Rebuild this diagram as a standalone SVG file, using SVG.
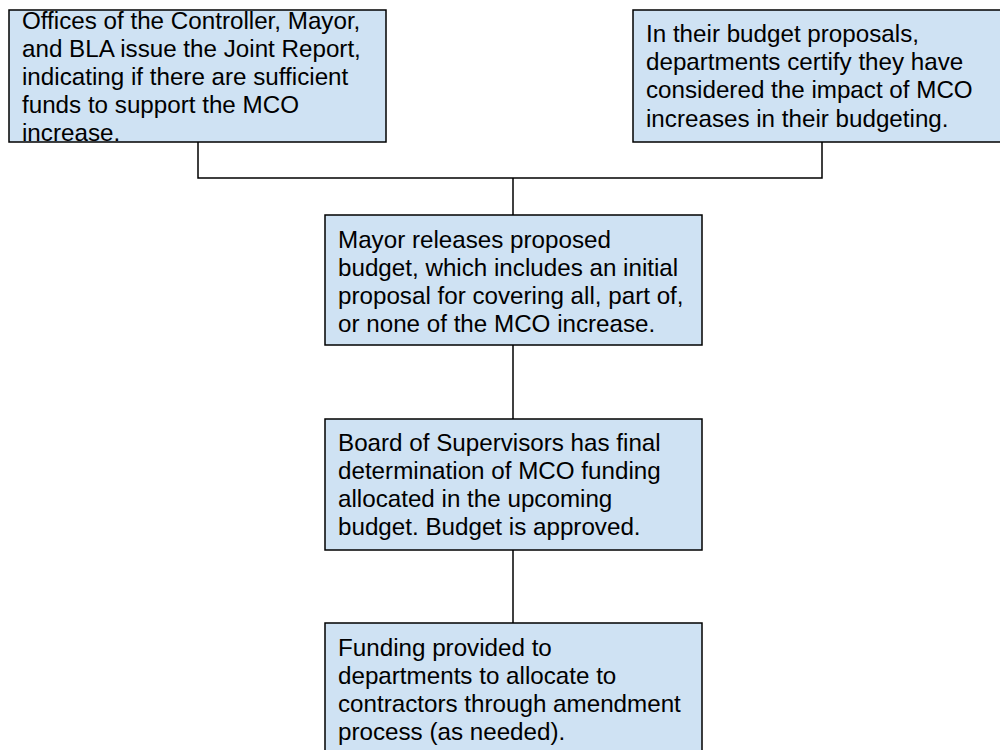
<svg xmlns="http://www.w3.org/2000/svg" width="1000" height="750" viewBox="0 0 1000 750">
<style>
.box{fill:#cfe2f3;stroke:#000;stroke-width:1.5}
.t{font-family:"Liberation Sans",Arial,sans-serif;font-size:24.2px;fill:#000}
.c{fill:none;stroke:#000;stroke-width:1.5}
</style>
<rect width="1000" height="750" fill="#fff"/>
<g id="connectors">
<polyline class="c" points="198,142 198,178 822,178 822,142"/>
<line class="c" x1="513" y1="178" x2="513" y2="215"/>
<line class="c" x1="513" y1="345" x2="513" y2="419"/>
<line class="c" x1="513" y1="550" x2="513" y2="623"/>
</g>
<g id="joint-report">
<rect class="box" x="9" y="10" width="377" height="132"/>
<text class="t"><tspan x="22" y="29">Offices of the Controller, Mayor,</tspan><tspan x="22" y="57">and BLA issue the Joint Report,</tspan><tspan x="22" y="85">indicating if there are sufficient</tspan><tspan x="22" y="113">funds to support the MCO</tspan><tspan x="22" y="141">increase.</tspan></text>
</g>
<g id="dept-proposals">
<rect class="box" x="633" y="10" width="380" height="132"/>
<text class="t"><tspan x="646" y="42">In their budget proposals,</tspan><tspan x="646" y="70">departments certify they have</tspan><tspan x="646" y="98">considered the impact of MCO</tspan><tspan x="646" y="127">increases in their budgeting.</tspan></text>
</g>
<g id="mayor-budget">
<rect class="box" x="325" y="215" width="377" height="130"/>
<text class="t"><tspan x="338" y="248">Mayor releases proposed</tspan><tspan x="338" y="276">budget, which includes an initial</tspan><tspan x="338" y="304">proposal for covering all, part of,</tspan><tspan x="338" y="332">or none of the MCO increase.</tspan></text>
</g>
<g id="board-approval">
<rect class="box" x="325" y="419" width="377" height="131"/>
<text class="t"><tspan x="338" y="451">Board of Supervisors has final</tspan><tspan x="338" y="479">determination of MCO funding</tspan><tspan x="338" y="507">allocated in the upcoming</tspan><tspan x="338" y="535">budget. Budget is approved.</tspan></text>
</g>
<g id="funding">
<rect class="box" x="325" y="623" width="377" height="140"/>
<text class="t"><tspan x="338" y="656">Funding provided to</tspan><tspan x="338" y="684">departments to allocate to</tspan><tspan x="338" y="712">contractors through amendment</tspan><tspan x="338" y="740">process (as needed).</tspan></text>
</g>
</svg>
